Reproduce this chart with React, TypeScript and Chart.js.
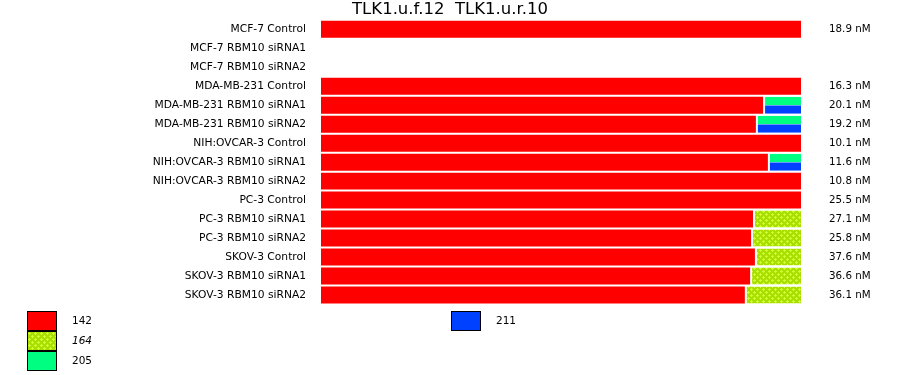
import React, { useEffect, useMemo, useRef } from "react";
import { Chart, registerables } from "chart.js";

Chart.register(...registerables);

const titleText = "TLK1.u.f.12  TLK1.u.r.10";

const categories = [
  "MCF-7 Control",
  "MCF-7 RBM10 siRNA1",
  "MCF-7 RBM10 siRNA2",
  "MDA-MB-231 Control",
  "MDA-MB-231 RBM10 siRNA1",
  "MDA-MB-231 RBM10 siRNA2",
  "NIH:OVCAR-3 Control",
  "NIH:OVCAR-3 RBM10 siRNA1",
  "NIH:OVCAR-3 RBM10 siRNA2",
  "PC-3 Control",
  "PC-3 RBM10 siRNA1",
  "PC-3 RBM10 siRNA2",
  "SKOV-3 Control",
  "SKOV-3 RBM10 siRNA1",
  "SKOV-3 RBM10 siRNA2",
];

const concentrationLabels = [
  "18.9 nM", "", "", "16.3 nM", "20.1 nM", "19.2 nM", "10.1 nM", "11.6 nM",
  "10.8 nM", "25.5 nM", "27.1 nM", "25.8 nM", "37.6 nM", "36.6 nM", "36.1 nM",
];

// percent share of each isoform per row
const share142 = [100, null, null, 100, 92.1, 90.6, 100, 93.1, 100, 100, 90.0, 89.6, 90.4, 89.4, 88.3];
const share164 = [null, null, null, null, null, null, null, null, null, null, 10.0, 10.4, 9.6, 10.6, 11.7];
const share205 = [null, null, null, null, 7.9, 9.4, null, 6.9, null, null, null, null, null, null, null];
const share211 = [null, null, null, null, 7.9, 9.4, null, 6.9, null, null, null, null, null, null, null];

const color142 = "#ff0000";
const color205 = "#00ff80";
const color211 = "#0040ff";

const FONT = "'DejaVu Sans', Verdana, sans-serif";

function makePatternCanvas(): HTMLCanvasElement {
  const c = document.createElement("canvas");
  c.width = 6;
  c.height = 6;
  const ctx = c.getContext("2d")!;
  ctx.fillStyle = "#aadd00";
  ctx.fillRect(0, 0, 6, 6);
  ctx.fillStyle = "#ccff33";
  const plus = (x: number, y: number) => {
    ctx.fillRect(x - 1, y, 3, 1);
    ctx.fillRect(x, y - 1, 1, 3);
  };
  plus(1, 1);
  plus(4, 4);
  return c;
}

function tailRange(arr: (number | null)[]) {
  return arr.map((v) => (v == null ? null : [100 - v, 100]));
}

const noPad = (scale: any) => {
  scale.paddingTop = 0;
  scale.paddingBottom = 0;
};

export default function App() {
  const canvasRef = useRef<HTMLCanvasElement | null>(null);
  const patternCanvas = useMemo(() => makePatternCanvas(), []);
  const patternUrl = useMemo(() => patternCanvas.toDataURL(), [patternCanvas]);

  useEffect(() => {
    const canvas = canvasRef.current!;
    const ctx = canvas.getContext("2d")!;
    const pattern = ctx.createPattern(patternCanvas, "repeat")!;
    const gapBorder = { left: 2, right: 0, top: 0, bottom: 0 };

    const chart = new Chart(canvas, {
      type: "bar",
      data: {
        labels: categories,
        datasets: [
          {
            label: "142",
            data: share142 as any,
            backgroundColor: color142,
            borderWidth: 0,
            stack: "main",
            grouped: false,
            categoryPercentage: 1,
            barPercentage: 0.895,
          },
          {
            label: "164",
            data: share164 as any,
            backgroundColor: pattern as any,
            borderColor: "#ffffff",
            borderWidth: gapBorder as any,
            borderSkipped: false,
            stack: "main",
            grouped: false,
            categoryPercentage: 1,
            barPercentage: 0.895,
          },
          {
            label: "205",
            data: tailRange(share205) as any,
            backgroundColor: color205,
            borderColor: "#ffffff",
            borderWidth: gapBorder as any,
            borderSkipped: false,
            stack: "s205",
            grouped: true,
            categoryPercentage: 0.895,
            barPercentage: 1,
          },
          {
            label: "211",
            data: tailRange(share211) as any,
            backgroundColor: color211,
            borderColor: "#ffffff",
            borderWidth: gapBorder as any,
            borderSkipped: false,
            stack: "s211",
            grouped: true,
            categoryPercentage: 0.895,
            barPercentage: 1,
          },
        ] as any,
      },
      options: {
        indexAxis: "y",
        animation: false,
        responsive: false,
        maintainAspectRatio: false,
        layout: { padding: { left: 0, right: 0, top: 0, bottom: 70.5 } },
        plugins: {
          legend: { display: false },
          tooltip: { enabled: false },
          title: {
            display: true,
            text: titleText,
            color: "#000",
            font: { family: FONT, size: 16.5, weight: "normal" as any, lineHeight: 1.2 },
            padding: { top: 0, bottom: 0 },
          },
        },
        scales: {
          x: {
            type: "linear",
            min: 0,
            max: 100,
            stacked: true,
            display: false,
          },
          y: {
            type: "category",
            position: "left",
            offset: true,
            grid: { display: false, drawTicks: false },
            border: { display: false },
            ticks: {
              autoSkip: false,
              padding: 15,
              color: "#000",
              font: { family: FONT, size: 10.7 },
            },
            afterFit: (scale: any) => {
              scale.width = 321;
              noPad(scale);
            },
          },
          yR: {
            type: "category",
            position: "right",
            offset: true,
            labels: concentrationLabels,
            grid: { display: false, drawTicks: false },
            border: { display: false },
            ticks: {
              autoSkip: false,
              padding: 28,
              color: "#000",
              font: { family: FONT, size: 10.3 },
            },
            afterFit: (scale: any) => {
              scale.width = 99;
              noPad(scale);
            },
          },
        } as any,
      },
    });
    return () => chart.destroy();
  }, [patternCanvas]);

  const legendEntries = [
    { label: "142", bg: color142, left: 27, top: 311, italic: false },
    { label: "164", bg: `url(${patternUrl})`, left: 27, top: 331, italic: true },
    { label: "205", bg: color205, left: 27, top: 351, italic: false },
    { label: "211", bg: color211, left: 451, top: 311, italic: false },
  ];

  return (
    <div style={{ position: "absolute", left: 0, top: 0, width: 900, height: 375, background: "#fff" }}>
      <canvas ref={canvasRef} width={900} height={375} style={{ display: "block", width: 900, height: 375 }} />
      {legendEntries.map((e) => (
        <React.Fragment key={e.label}>
          <div
            style={{
              position: "absolute",
              left: e.left,
              top: e.top,
              width: 30,
              height: 20,
              boxSizing: "border-box",
              border: "1px solid #000",
              background: e.bg,
            }}
          />
          <div
            style={{
              position: "absolute",
              left: e.left + 45,
              top: e.top - 1,
              height: 20,
              lineHeight: "20px",
              fontFamily: FONT,
              fontSize: 10.5,
              fontStyle: e.italic ? "italic" : "normal",
              color: "#000",
              whiteSpace: "nowrap",
            }}
          >
            {e.label}
          </div>
        </React.Fragment>
      ))}
    </div>
  );
}
